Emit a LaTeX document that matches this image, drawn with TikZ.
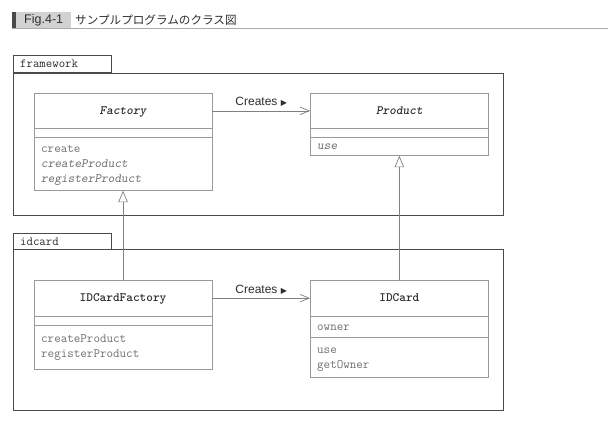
\documentclass[tikz,border=0pt]{standalone}
\usepackage{fontspec}
\setmainfont{Liberation Sans}
\newfontfamily\jpfont{Noto Sans CJK JP}
\newfontfamily\symfont{DejaVu Sans}
\usetikzlibrary{arrows.meta}
\definecolor{pkgline}{HTML}{4A4A4A}
\definecolor{boxline}{HTML}{9A9A9A}
\definecolor{conline}{HTML}{808080}
\definecolor{txtgrey}{HTML}{707070}
\definecolor{namecol}{HTML}{2E2E2E}
\definecolor{hdrgrey}{HTML}{D2D2D2}
\definecolor{hdrdark}{HTML}{4A4A4A}
\definecolor{hdrline}{HTML}{ABABAB}
\begin{document}
\begin{tikzpicture}[x=1pt,y=-1pt,
  pkgtab/.style={draw=pkgline, line width=0.9pt, anchor=north west, inner ysep=0pt, inner xsep=7pt,
    minimum height=16.6pt, text width=84.3pt, align=left,
    font=\ttfamily\fontsize{12.5}{14}\selectfont, text=namecol},
  pkgbody/.style={draw=pkgline, line width=0.9pt, anchor=north west, inner sep=0pt},
  classbox/.style={draw=boxline, line width=0.7pt, fill=white, anchor=north west, inner sep=0pt, minimum width=178pt},
  namepart/.style={draw=boxline, line width=0.7pt, anchor=north west, inner sep=0pt, minimum width=178pt,
    minimum height=35.6pt, text height=6.8pt, text depth=0pt,
    font=\ttfamily\bfseries\fontsize{12.7}{14}\selectfont, text=namecol},
  abstractname/.style={font=\ttfamily\bfseries\slshape\fontsize{12.7}{14}\selectfont},
  member/.style={anchor=base west, inner sep=0pt, font=\ttfamily\fontsize{12.7}{14}\selectfont, text=txtgrey},
  abstractmember/.style={member, font=\ttfamily\slshape\fontsize{12.7}{14}\selectfont},
  creates/.style={draw=conline, line width=0.7pt, -{Straight Barb[length=9pt,width=7.5pt]}},
  gen/.style={draw=conline, line width=0.7pt, -{Triangle[open,length=11.5pt,width=9.5pt,fill=white]}},
  crlabel/.style={anchor=base, inner sep=0pt, yshift=5pt, font=\fontsize{12}{14}\selectfont, text=namecol},
]
\useasboundingbox[fill=white] (0,0) rectangle (610,432);

% header
\fill[hdrdark] (12,12) rectangle (16,27.5);
\node[fill=hdrgrey, anchor=north west, minimum width=55pt, minimum height=15.5pt, inner sep=0pt,
  font=\fontsize{12.5}{14}\selectfont, text=namecol] (figno) at (16,12) {Fig.4-1};
\node[anchor=west, inner sep=0pt, font=\jpfont\fontsize{11.6}{14}\selectfont, text=namecol] (figtitle)
  at (75,19.7) {サンプルプログラムのクラス図};
\coordinate (hl) at (12,28.3);
\coordinate (hr) at (608,28.3);
\draw[hdrline, line width=0.9pt] (hl) -- (hr);

% packages
\node[pkgtab] (fwtab) at (12.7,55) {framework};
\node[pkgbody, minimum width=490pt, minimum height=142.3pt] (fw) at (12.7,72.7) {};
\node[pkgtab] (idtab) at (12.7,232.7) {idcard};
\node[pkgbody, minimum width=490pt, minimum height=160.7pt] (id) at (12.7,249.3) {};

% Factory
\node[classbox, minimum height=97.3pt] (factory) at (33.7,92.7) {};
\node[namepart, abstractname] (factoryN) at (33.7,92.7) {Factory};
\node[namepart, minimum height=9pt] (factoryA) at (33.7,128.3) {};
\node[member] (fm1) at (41,152) {create};
\node[abstractmember] (fm2) at (41,167.3) {createProduct};
\node[abstractmember] (fm3) at (41,182.3) {registerProduct};

% Product
\node[classbox, minimum height=62.3pt] (product) at (310,92.7) {};
\node[namepart, abstractname] (productN) at (310,92.7) {Product};
\node[namepart, minimum height=9pt] (productA) at (310,128.3) {};
\node[abstractmember] (pm1) at (317,149.7) {use};

% IDCardFactory
\node[classbox, minimum height=89.3pt] (idfac) at (33.7,280) {};
\node[namepart] (idfacN) at (33.7,280) {IDCardFactory};
\node[namepart, minimum height=9.6pt] (idfacA) at (33.7,315.7) {};
\node[member] (im1) at (41,342) {createProduct};
\node[member] (im2) at (41,357.3) {registerProduct};

% IDCard
\node[classbox, minimum height=97.3pt] (idcard) at (310,280) {};
\node[namepart] (idcardN) at (310,280) {IDCard};
\node[namepart, minimum height=21.6pt] (idcardA) at (310,315.7) {};
\node[member] (ia1) at (317,330.3) {owner};
\node[member] (cm1) at (317,353) {use};
\node[member] (cm2) at (317,368.7) {getOwner};

% connectors
\draw[creates] (factoryN.east) -- node[crlabel] (cr1) {Creates {\symfont\fontsize{8}{10}\selectfont ▶}} (productN.west);
\draw[creates] (idfacN.east) -- node[crlabel] (cr2) {Creates {\symfont\fontsize{8}{10}\selectfont ▶}} (idcardN.west);
\draw[gen] (idfacN.north) -- (factory.south);
\draw[gen] (idcardN.north) -- (product.south);
\end{tikzpicture}
\end{document}
